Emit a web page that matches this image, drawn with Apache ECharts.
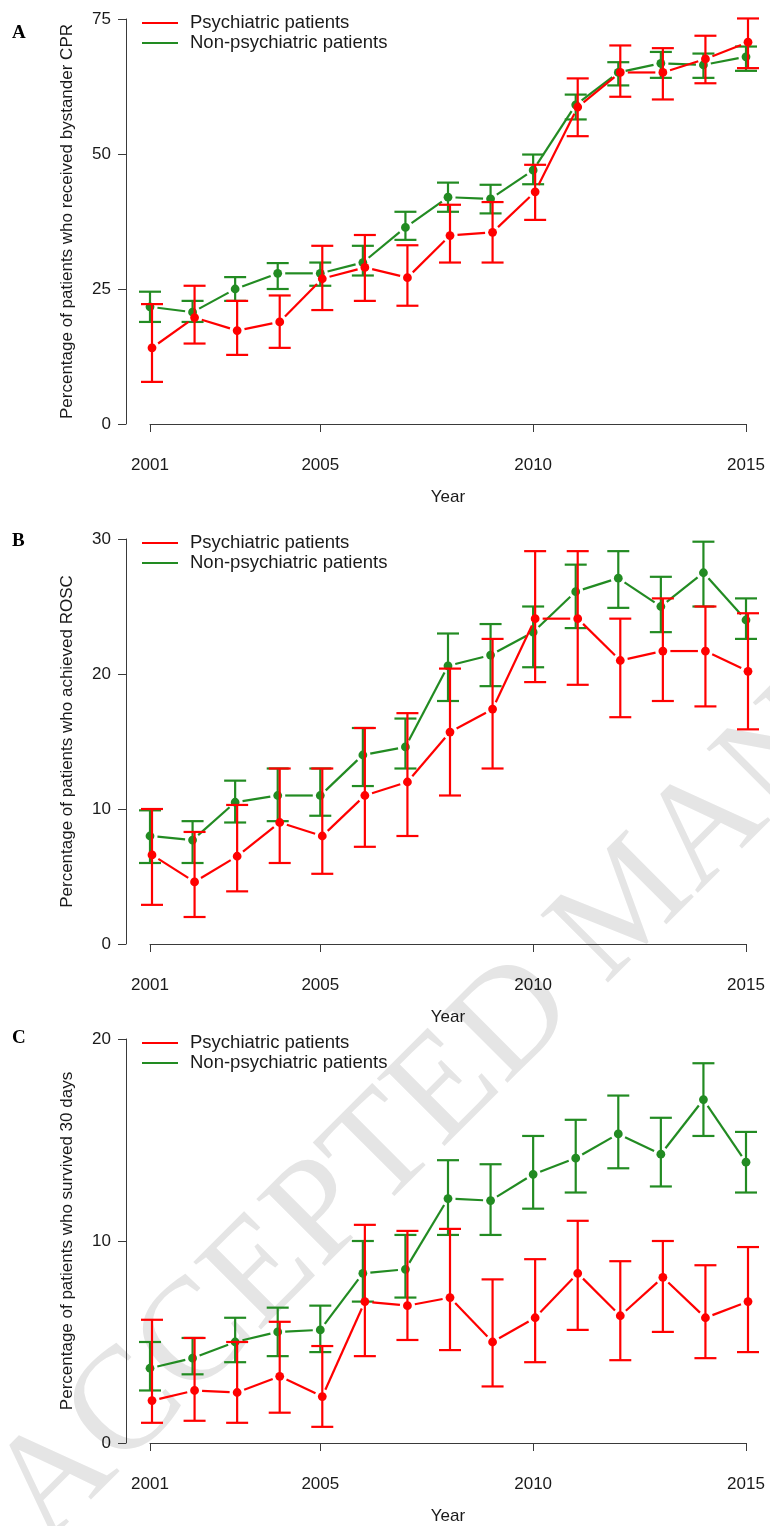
<!DOCTYPE html>
<html><head><meta charset="utf-8">
<script src="https://cdn.jsdelivr.net/npm/echarts/dist/echarts.min.js"></script>
<style>html,body{margin:0;padding:0;background:#fff}#c{width:770px;height:1526px}</style>
</head><body><div id="c"></div>
<script>
// ---------- data ----------
const years = [2001, 2002, 2003, 2004, 2005, 2006, 2007, 2008, 2009, 2010, 2011, 2012, 2013, 2014, 2015];
const xTickValues = [2001, 2005, 2010, 2015];
const seriesNames = ['Psychiatric patients', 'Non-psychiatric patients'];

// Panel A: bystander CPR (%)
const cprPsyMean = [14.1, 19.7, 17.3, 18.9, 26.9, 29.0, 27.1, 34.9, 35.5, 43.0, 58.7, 65.1, 65.1, 67.6, 70.7];
const cprPsyLow  = [7.8, 14.9, 12.8, 14.1, 21.1, 22.8, 21.9, 29.9, 29.9, 37.8, 53.3, 60.6, 60.1, 63.1, 65.9];
const cprPsyHigh = [22.2, 25.6, 22.8, 23.8, 33.0, 35.0, 33.1, 40.6, 41.1, 48.0, 64.0, 70.1, 69.6, 71.9, 75.1];
const cprNonMean = [21.7, 20.7, 25.0, 27.9, 27.9, 29.9, 36.4, 42.0, 41.7, 47.0, 59.1, 65.1, 66.8, 66.5, 68.0];
const cprNonLow  = [18.9, 18.9, 22.8, 25.0, 25.6, 27.5, 34.1, 39.3, 39.0, 44.4, 56.4, 62.7, 64.1, 64.1, 65.4];
const cprNonHigh = [24.5, 22.8, 27.2, 29.8, 29.9, 33.0, 39.3, 44.7, 44.3, 49.9, 61.0, 67.0, 68.9, 68.6, 69.9];

// Panel B: ROSC (%)
const roscPsyMean = [6.6, 4.6, 6.5, 9.0, 8.0, 11.0, 12.0, 15.7, 17.4, 24.1, 24.1, 21.0, 21.7, 21.7, 20.2];
const roscPsyLow  = [2.9, 2.0, 3.9, 6.0, 5.2, 7.2, 8.0, 11.0, 13.0, 19.4, 19.2, 16.8, 18.0, 17.6, 15.9];
const roscPsyHigh = [10.0, 8.3, 10.3, 13.0, 13.0, 16.0, 17.1, 20.4, 22.6, 29.1, 29.1, 24.1, 25.6, 25.0, 24.5];
const roscNonMean = [8.0, 7.7, 10.5, 11.0, 11.0, 14.0, 14.6, 20.6, 21.4, 23.1, 26.1, 27.1, 25.0, 27.5, 24.0];
const roscNonLow  = [6.0, 6.0, 9.0, 9.1, 9.5, 11.7, 13.0, 18.0, 19.1, 20.5, 23.4, 24.9, 23.1, 25.0, 22.6];
const roscNonHigh = [9.9, 9.1, 12.1, 13.0, 13.0, 16.0, 16.7, 23.0, 23.7, 25.0, 28.1, 29.1, 27.2, 29.8, 25.6];

// Panel C: 30-day survival (%)
const survPsyMean = [2.1, 2.6, 2.5, 3.3, 2.3, 7.0, 6.8, 7.2, 5.0, 6.2, 8.4, 6.3, 8.2, 6.2, 7.0];
const survPsyLow  = [1.0, 1.1, 1.0, 1.5, 0.8, 4.3, 5.1, 4.6, 2.8, 4.0, 5.6, 4.1, 5.5, 4.2, 4.5];
const survPsyHigh = [6.1, 5.2, 5.0, 6.0, 4.8, 10.8, 10.5, 10.6, 8.1, 9.1, 11.0, 9.0, 10.0, 8.8, 9.7];
const survNonMean = [3.7, 4.2, 5.0, 5.5, 5.6, 8.4, 8.6, 12.1, 12.0, 13.3, 14.1, 15.3, 14.3, 17.0, 13.9];
const survNonLow  = [2.6, 3.4, 4.0, 4.3, 4.5, 7.0, 7.2, 10.3, 10.3, 11.6, 12.4, 13.6, 12.7, 15.2, 12.4];
const survNonHigh = [5.0, 5.2, 6.2, 6.7, 6.8, 10.0, 10.3, 14.0, 13.8, 15.2, 16.0, 17.2, 16.1, 18.8, 15.4];

const panelLetters = ['A', 'B', 'C'];
const yTitles = [
  'Percentage of patients who received bystander CPR',
  'Percentage of patients who achieved ROSC',
  'Percentage of patients who survived 30 days'
];
const yMax = [75, 30, 20];
const yStep = [25, 10, 10];
const xTitle = 'Year';
const watermark = 'ACCEPTED MANUSCRIPT';

// ---------- styling ----------
const RED = '#FF0000';
const GREEN = '#228B22';
const AXIS = '#3a3a3a';
const TEXT = '#1a1a1a';
const FONT = 'Liberation Sans, Arial, sans-serif';
const gridTops = [19, 539, 1039];
const gridH = 405;

function makeRender(means, color, dx) {
  return function (params, api) {
    const i = params.dataIndex;
    const x = api.value(0);
    const pm = api.coord([x, api.value(1)]);
    const pl = api.coord([x, api.value(2)]);
    const ph = api.coord([x, api.value(3)]);
    const cx = pm[0] + dx;
    const capW = 11;
    const ls = { stroke: color, lineWidth: 2.2 };
    const children = [
      { type: 'line', shape: { x1: cx, y1: pl[1], x2: cx, y2: ph[1] }, style: ls },
      { type: 'line', shape: { x1: cx - capW, y1: ph[1], x2: cx + capW, y2: ph[1] }, style: ls },
      { type: 'line', shape: { x1: cx - capW, y1: pl[1], x2: cx + capW, y2: pl[1] }, style: ls },
      { type: 'circle', shape: { cx: cx, cy: pm[1], r: 4.4 }, style: { fill: color } }
    ];
    if (i < years.length - 1) {
      const pn = api.coord([years[i + 1], means[i + 1]]);
      const nx = pn[0] + dx, ny = pn[1];
      const ddx = nx - cx, ddy = ny - pm[1];
      const len = Math.hypot(ddx, ddy);
      const g = 7.5;
      if (len > 2 * g) {
        children.push({ type: 'line', shape: {
          x1: cx + ddx * g / len, y1: pm[1] + ddy * g / len,
          x2: nx - ddx * g / len, y2: ny - ddy * g / len }, style: ls });
      }
    }
    return { type: 'group', children: children };
  };
}

function mkSeries(name, gi, means, lows, highs, color, dx, z) {
  return {
    type: 'custom', name: name, xAxisIndex: gi, yAxisIndex: gi, clip: false, z: z,
    renderItem: makeRender(means, color, dx),
    encode: { x: 0, y: [1, 2, 3] },
    data: years.map((y, i) => [y, means[i], lows[i], highs[i]])
  };
}

const panels = [
  [cprPsyMean, cprPsyLow, cprPsyHigh, cprNonMean, cprNonLow, cprNonHigh],
  [roscPsyMean, roscPsyLow, roscPsyHigh, roscNonMean, roscNonLow, roscNonHigh],
  [survPsyMean, survPsyLow, survPsyHigh, survNonMean, survNonLow, survNonHigh]
];

const grids = [], xAxes = [], yAxes = [], series = [], legends = [], graphics = [];
panels.forEach((p, gi) => {
  grids.push({ left: 150, right: 24, top: gridTops[gi], height: gridH });
  xAxes.push({
    type: 'value', gridIndex: gi, min: 2001, max: 2015, offset: 17,
    name: xTitle, nameLocation: 'middle', nameGap: 48,
    nameTextStyle: { fontSize: 17, color: TEXT, fontFamily: FONT },
    axisLine: { show: true, lineStyle: { color: AXIS, width: 1 } },
    axisTick: { show: true, length: 8, customValues: xTickValues, lineStyle: { color: AXIS } },
    axisLabel: { customValues: xTickValues, margin: 16, fontSize: 17, color: TEXT, fontFamily: FONT,
      formatter: v => String(v) },
    splitLine: { show: false }
  });
  yAxes.push({
    type: 'value', gridIndex: gi, min: 0, max: yMax[gi], interval: yStep[gi], offset: 24,
    name: yTitles[gi], nameLocation: 'middle', nameGap: 50, nameRotate: 90,
    nameTextStyle: { fontSize: 17, color: TEXT, fontFamily: FONT },
    axisLine: { show: true, lineStyle: { color: AXIS, width: 1 } },
    axisTick: { show: true, length: 8, lineStyle: { color: AXIS } },
    axisLabel: { margin: 15, fontSize: 17, color: TEXT, fontFamily: FONT },
    splitLine: { show: false }
  });
  series.push(mkSeries(seriesNames[1], gi, p[3], p[4], p[5], GREEN, 0, 3));
  series.push(mkSeries(seriesNames[0], gi, p[0], p[1], p[2], RED, 2, 4));
  legends.push({
    left: 142, top: gridTops[gi] - 6, orient: 'vertical', itemWidth: 36, itemHeight: 2,
    itemGap: 0, padding: 0, selectedMode: false,
    textStyle: { fontSize: 18.5, color: TEXT, fontFamily: FONT, lineHeight: 20, padding: [0, 0, 0, 7] },
    data: [
      { name: seriesNames[0], icon: 'rect', itemStyle: { color: RED } },
      { name: seriesNames[1], icon: 'rect', itemStyle: { color: GREEN } }
    ]
  });
  graphics.push({
    type: 'text', left: 12, top: gridTops[gi] + [5, -7, -10][gi], z: 10,
    style: { text: panelLetters[gi], font: 'bold 19px "Liberation Serif", "Times New Roman", serif', fill: '#000' }
  });
});

graphics.push({
  type: 'text', x: -33, y: 1466, rotation: 45 * Math.PI / 180, z: -10, silent: true,
  style: { text: watermark, font: '146px "Liberation Serif", "Times New Roman", serif',
    fill: '#e5e5e5', verticalAlign: 'top', align: 'left' }
});

const chart = echarts.init(document.getElementById('c'), null, { renderer: 'canvas' });
chart.setOption({
  backgroundColor: '#ffffff',
  animation: false,
  grid: grids, xAxis: xAxes, yAxis: yAxes, series: series, legend: legends,
  graphic: { elements: graphics }
});
</script>
</body></html>
